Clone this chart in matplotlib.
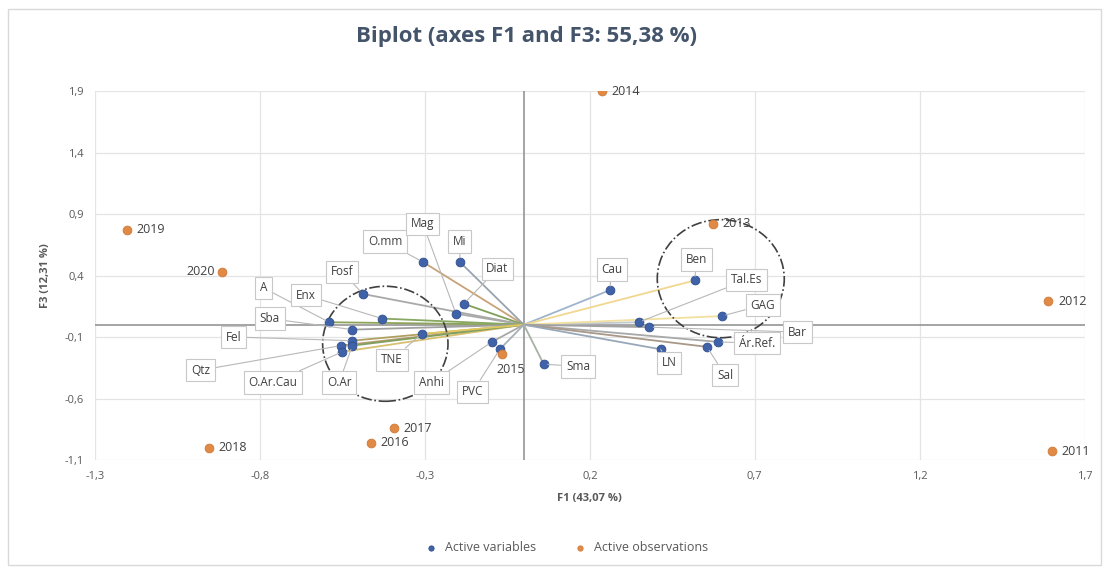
import matplotlib.pyplot as plt
from matplotlib.patches import Ellipse, Rectangle

plt.rcParams['font.family'] = ['Open Sans', 'DejaVu Sans']

# Active variables (F1, F3) and where their boxed labels sit
var_names = ['O.mm', 'Mag', 'Mi', 'Diat', 'Fosf', 'A', 'Enx', 'Sba', 'Fel', 'Qtz',
             'O.Ar.Cau', 'O.Ar', 'TNE', 'Anhi', 'PVC', 'Cau', 'Ben', 'Tal.Es',
             'GAG', 'Bar', 'Ár.Ref.', 'Sal', 'LN', 'Sma']
var_f1 = [-0.306, -0.206, -0.194, -0.182, -0.488, -0.59, -0.43, -0.52, -0.52, -0.555,
          -0.55, -0.52, -0.31, -0.097, -0.073, 0.26, 0.518, 0.348,
          0.60, 0.38, 0.59, 0.555, 0.415, 0.06]
var_f3 = [0.51, 0.09, 0.51, 0.17, 0.25, 0.02, 0.05, -0.04, -0.13, -0.17,
          -0.22, -0.17, -0.075, -0.14, -0.2, 0.28, 0.36, 0.02,
          0.07, -0.02, -0.14, -0.18, -0.2, -0.32]
lab_f1 = [-0.42, -0.306, -0.194, -0.08, -0.55, -0.79, -0.66, -0.77, -0.88, -0.98,
          -0.76, -0.56, -0.40, -0.28, -0.155, 0.267, 0.524, 0.676,
          0.724, 0.83, 0.706, 0.61, 0.44, 0.164]
lab_f3 = [0.675, 0.82, 0.675, 0.455, 0.43, 0.30, 0.24, 0.05, -0.10, -0.37,
          -0.47, -0.47, -0.285, -0.47, -0.545, 0.45, 0.53, 0.365,
          0.16, -0.06, -0.15, -0.41, -0.31, -0.34]
vec_colors = ['#c9a27a', '#a9a9a9', '#9aa4b0', '#7fa05a', '#a9a9a9', '#8ea35a', '#86a860', '#a0a0a0',
              '#b0a060', '#b89870', '#d8c070', '#80a060', '#e0c860', '#a8a8a8', '#a8b0b8',
              '#9fb4cc', '#f0d890', '#c0c8d0', '#f2e0a0', '#a0a0a0', '#a8a8a8', '#a89888',
              '#98a8b8', '#a8b0a8']

# Active observations (years)
obs_names = ['2011', '2012', '2013', '2014', '2015', '2016', '2017', '2018', '2019', '2020']
obs_f1 = [1.60, 1.59, 0.573, 0.236, -0.067, -0.464, -0.394, -0.955, -1.203, -0.915]
obs_f3 = [-1.03, 0.19, 0.82, 1.90, -0.24, -0.96, -0.84, -1.00, 0.77, 0.43]

fig = plt.figure(figsize=(11.09, 5.71), dpi=100)
fig.patches.append(Rectangle((0.007, 0.01), 0.986, 0.975, transform=fig.transFigure,
                             fill=False, edgecolor='#d9d9d9', lw=1))
ax = fig.add_axes([0.0857, 0.1944, 0.8923, 0.6462])

ax.set_xlim(-1.3, 1.7)
ax.set_ylim(-1.1, 1.9)
ax.set_xticks([-1.3, -0.8, -0.3, 0.2, 0.7, 1.2, 1.7])
ax.set_yticks([-1.1, -0.6, -0.1, 0.4, 0.9, 1.4, 1.9])
fmt = lambda v: ('%.1f' % v).replace('.', ',')
ax.set_xticklabels([fmt(v) for v in ax.get_xticks()])
ax.set_yticklabels([fmt(v) for v in ax.get_yticks()])
ax.tick_params(length=0, labelsize=8, labelcolor='#595959', pad=8)
ax.grid(True, color='#e4e4e4', lw=0.9)
ax.set_axisbelow(True)
for s in ax.spines.values():
    s.set_visible(False)
ax.axhline(0, color='#8c8c8c', lw=1.1, zorder=1)
ax.axvline(0, color='#8c8c8c', lw=1.1, zorder=1)

# vectors
for x, y, c in zip(var_f1, var_f3, vec_colors):
    ax.plot([0, x], [0, y], color=c, lw=1.3, zorder=2)

ax.scatter(var_f1, var_f3, s=40, color='#3f62a8', edgecolor='#2f4f8f', lw=0.6, zorder=4,
           label='Active variables')
ax.scatter(obs_f1, obs_f3, s=40, color='#e08a45', edgecolor='#cf7a38', lw=0.6, zorder=4,
           label='Active observations')

for n, x, y, lx, ly in zip(var_names, var_f1, var_f3, lab_f1, lab_f3):
    ax.annotate(n, xy=(x, y), xytext=(lx, ly), ha='center', va='center',
                fontsize=8.5, color='#404040', zorder=5,
                bbox=dict(boxstyle='square,pad=0.4', fc='white', ec='#c8c8c8', lw=0.8),
                arrowprops=dict(arrowstyle='-', color='#b8b8b8', lw=0.8, shrinkA=0, shrinkB=3))

for n, x, y in zip(obs_names, obs_f1, obs_f3):
    if n == '2020':
        ax.annotate(n, (x, y), xytext=(-5, 0), textcoords='offset points', ha='right',
                    va='center', fontsize=9, color='#404040')
    elif n == '2015':
        ax.annotate(n, (x, y), xytext=(-4, -11), textcoords='offset points', ha='left',
                    va='center', fontsize=9, color='#404040')
    else:
        ax.annotate(n, (x, y), xytext=(7, 0), textcoords='offset points', ha='left',
                    va='center', fontsize=9, color='#404040')

# dash-dot group circles
for cx, cy, w, h in [(-0.42, -0.155, 0.38, 0.935), (0.597, 0.374, 0.385, 0.96)]:
    ax.add_patch(Ellipse((cx, cy), w, h, fill=False, ls='-.', lw=1.2, ec='#404040', zorder=3))

fig.suptitle('Biplot (axes F1 and F3: 55,38 %)', x=0.475, y=0.955, fontsize=16,
             fontweight='bold', color='#44546a')
ax.set_xlabel('F1 (43,07 %)', fontsize=8, fontweight='bold', color='#595959', labelpad=8)
ax.set_ylabel('F3 (12,31 %)', fontsize=8, fontweight='bold', color='#595959', labelpad=10)

fig.legend(loc='lower center', bbox_to_anchor=(0.508, 0.01), ncol=2, frameon=False,
           fontsize=9, labelcolor='#595959', handletextpad=0.1, columnspacing=2.5,
           markerscale=0.6)

fig.savefig('out.png', dpi=100)
